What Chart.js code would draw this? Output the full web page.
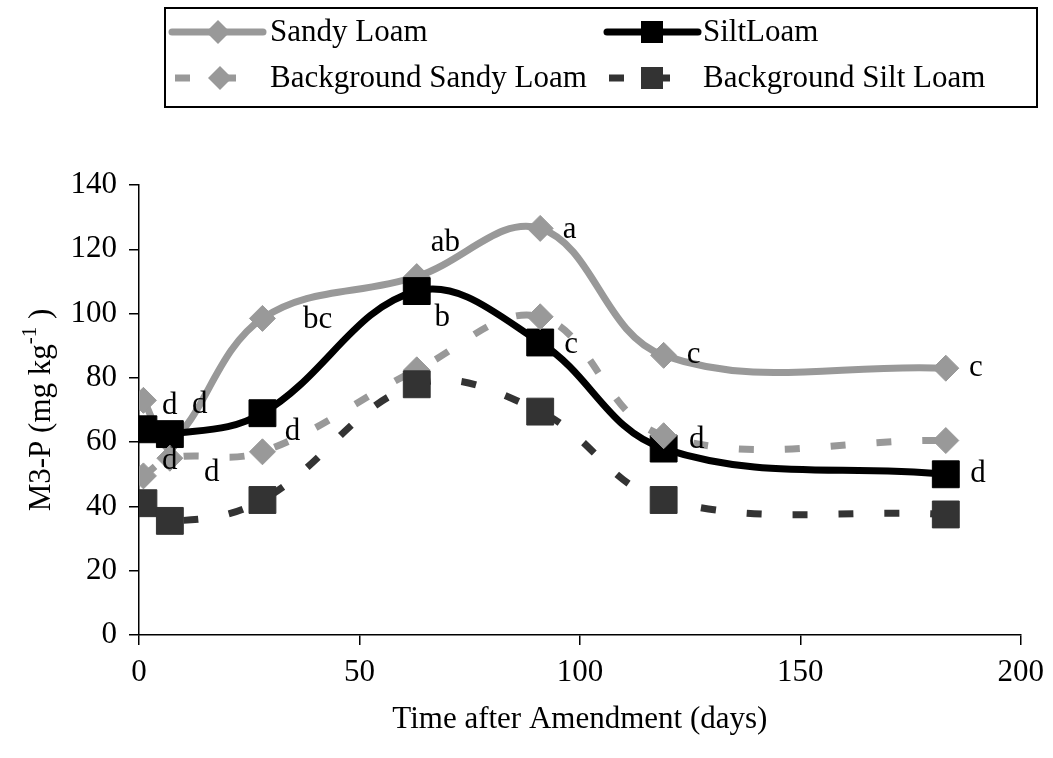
<!DOCTYPE html>
<html>
<head>
<meta charset="utf-8">
<script src="https://cdn.jsdelivr.net/npm/chart.js@4.4.0/dist/chart.umd.min.js"></script>
<style>
  html, body { margin: 0; padding: 0; background: #fff; }
</style>
</head>
<body>
<canvas id="chart" width="1053" height="758"></canvas>
<script>
// days after amendment
var days = [1, 7, 28, 63, 91, 119, 183];

// M3-P values (mg/kg) per series
var sandyLoam = [73, 60, 98.5, 111.5, 126.5, 87, 83];
var siltLoam = [64, 62.5, 69, 107, 91, 58, 50];
var bgSandyLoam = [49.5, 55, 57, 82.5, 99, 62, 60.5];
var bgSiltLoam = [41, 35.5, 42, 78, 69.5, 42, 37.5];

var seriesNames = ['Sandy Loam', 'SiltLoam', 'Background Sandy Loam', 'Background Silt Loam'];

// significance letters and where they sit (in axis units)
var letterText = ['d', 'd', 'd', 'd', 'd', 'bc', 'ab', 'a', 'b', 'c', 'c', 'c', 'd', 'd'];
var letterX = [7, 13.8, 7, 16.5, 34.8, 40.5, 69.5, 97.7, 68.8, 98, 125.8, 189.8, 126.5, 190.3];
var letterY = [71.3, 71.6, 54.1, 50.4, 63.2, 98, 122, 126, 98.6, 90.2, 87.1, 83.1, 60.7, 50.1];

var FONT = '"Liberation Serif", "Times New Roman", serif';
var GREY = '#999999';
var DARK = '#333333';

function toPoints(vals) {
    return vals.map(function (v, i) { return { x: days[i], y: v }; });
}

//Letters drawn on top of the series
var lettersPlugin = {
    id: 'letters',
    afterDatasetsDraw: function (chart) {
        var ctx = chart.ctx;
        var xs = chart.scales.x, ys = chart.scales.y;
        ctx.save();
        ctx.font = '31px ' + FONT;
        ctx.fillStyle = '#000';
        ctx.textAlign = 'center';
        ctx.textBaseline = 'middle';
        for (var i = 0; i < letterText.length; i++) {
            ctx.fillText(letterText[i], xs.getPixelForValue(letterX[i]), ys.getPixelForValue(letterY[i]));
        }
        ctx.restore();
    }
};

//Axis titles, y one needs a superscript
var titlesPlugin = {
    id: 'titles',
    afterDraw: function (chart) {
        var ctx = chart.ctx;
        var area = chart.chartArea;
        ctx.save();
        ctx.fillStyle = '#000';
        ctx.font = '31px ' + FONT;
        ctx.textAlign = 'center';
        ctx.textBaseline = 'middle';
        ctx.fillText('Time after Amendment (days)', (area.left + area.right) / 2, 720);

        var a = 'M3-P (mg kg', sup = '-1', b = ' )';
        ctx.font = '31px ' + FONT;
        var wa = ctx.measureText(a).width, wb = ctx.measureText(b).width;
        ctx.font = '21px ' + FONT;
        var ws = ctx.measureText(sup).width;
        var total = wa + ws + wb;
        ctx.translate(40, (area.top + area.bottom) / 2);
        ctx.rotate(-Math.PI / 2);
        ctx.textAlign = 'left';
        ctx.textBaseline = 'alphabetic';
        var x0 = -total / 2;
        ctx.font = '31px ' + FONT;
        ctx.fillText(a, x0, 10);
        ctx.font = '21px ' + FONT;
        ctx.fillText(sup, x0 + wa, -4);
        ctx.font = '31px ' + FONT;
        ctx.fillText(b, x0 + wa + ws, 10);
        ctx.restore();
    }
};

//Legend box at the top
function legendMarker(ctx, style, x, y, color) {
    ctx.fillStyle = color;
    ctx.beginPath();
    if (style === 'diamond') {
        ctx.moveTo(x, y - 12);
        ctx.lineTo(x + 12, y);
        ctx.lineTo(x, y + 12);
        ctx.lineTo(x - 12, y);
    } else {
        ctx.rect(x - 11, y - 11, 22, 22);
    }
    ctx.closePath();
    ctx.fill();
}

var legendPlugin = {
    id: 'boxLegend',
    afterDraw: function (chart) {
        var ctx = chart.ctx;
        ctx.save();
        ctx.strokeStyle = '#000';
        ctx.lineWidth = 2;
        ctx.strokeRect(165, 8, 872, 99);

        var rows = [32, 78];
        var entries = [
            { name: seriesNames[0], color: GREY, style: 'diamond', dash: false, x1: 172, x2: 263, mx: 218, tx: 270, row: 0 },
            { name: seriesNames[1], color: '#000', style: 'square', dash: false, x1: 607, x2: 698, mx: 652, tx: 703, row: 0 },
            { name: seriesNames[2], color: GREY, style: 'diamond', dash: true, x1: 175, x2: 240, mx: 220, tx: 270, row: 1 },
            { name: seriesNames[3], color: DARK, style: 'square', dash: true, x1: 609, x2: 672, mx: 652, tx: 703, row: 1 }
        ];
        entries.forEach(function (e) {
            var y = rows[e.row];
            ctx.strokeStyle = e.color;
            ctx.lineWidth = 7;
            ctx.lineCap = e.dash ? 'butt' : 'round';
            ctx.setLineDash(e.dash ? [15, 31] : []);
            ctx.beginPath();
            ctx.moveTo(e.x1, y);
            ctx.lineTo(e.x2, y);
            ctx.stroke();
            ctx.setLineDash([]);
            legendMarker(ctx, e.style, e.mx, y, e.color);
            ctx.fillStyle = '#000';
            ctx.font = '31px ' + FONT;
            ctx.textAlign = 'left';
            ctx.textBaseline = 'middle';
            ctx.fillText(e.name, e.tx, y + 1);
        });
        ctx.restore();
    }
};

var ctx = document.getElementById('chart').getContext('2d');
var chart = new Chart(ctx, {
    type: 'line',
    data: {
        datasets: [
            {
                label: seriesNames[0], data: toPoints(sandyLoam), order: 4,
                borderColor: GREY, backgroundColor: GREY, borderWidth: 7,
                pointStyle: 'rectRot', pointRadius: 13, pointBorderWidth: 1, tension: 0.38
            },
            {
                label: seriesNames[1], data: toPoints(siltLoam), order: 3,
                borderColor: '#000', backgroundColor: '#000', borderWidth: 7,
                pointStyle: 'rect', pointRadius: 19, pointBorderWidth: 1, tension: 0.38
            },
            {
                label: seriesNames[2], data: toPoints(bgSandyLoam), order: 2,
                borderColor: GREY, backgroundColor: GREY, borderWidth: 7, borderDash: [15, 31],
                pointStyle: 'rectRot', pointRadius: 13, pointBorderWidth: 1, tension: 0.38
            },
            {
                label: seriesNames[3], data: toPoints(bgSiltLoam), order: 1,
                borderColor: DARK, backgroundColor: DARK, borderWidth: 7, borderDash: [15, 31],
                pointStyle: 'rect', pointRadius: 19, pointBorderWidth: 1, tension: 0.38
            }
        ]
    },
    options: {
        responsive: false,
        animation: false,
        devicePixelRatio: 1,
        layout: { padding: { top: 185, right: 14, left: 0, bottom: 0 } },
        plugins: {
            legend: { display: false },
            tooltip: { enabled: false }
        },
        scales: {
            x: {
                type: 'linear', min: 0, max: 200,
                ticks: { stepSize: 50, color: '#000', font: { family: FONT, size: 31 }, padding: 9, maxRotation: 0 },
                grid: { drawOnChartArea: false, color: '#000', lineWidth: 1.5, tickLength: 10 },
                border: { color: '#000', width: 1.5 },
                afterFit: function (scale) { scale.height = 123; }
            },
            y: {
                min: 0, max: 140,
                ticks: { stepSize: 20, color: '#000', font: { family: FONT, size: 31 }, padding: 12 },
                grid: { drawOnChartArea: false, color: '#000', lineWidth: 1.5, tickLength: 10 },
                border: { color: '#000', width: 1.5 },
                afterFit: function (scale) { scale.width = 139; }
            }
        }
    },
    plugins: [lettersPlugin, titlesPlugin, legendPlugin]
});
</script>
</body>
</html>
